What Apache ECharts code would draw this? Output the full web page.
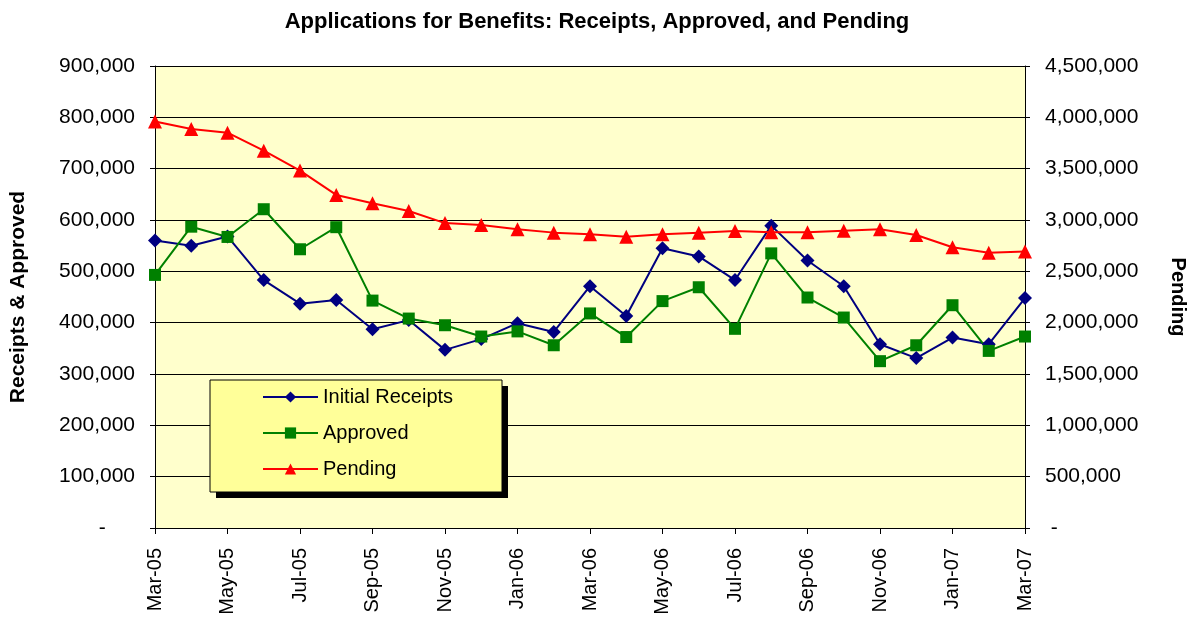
<!DOCTYPE html>
<html>
<head>
<meta charset="utf-8">
<script src="https://cdn.jsdelivr.net/npm/echarts@6/dist/echarts.min.js"></script>
<style>
  html, body { margin: 0; padding: 0; background: #fff; }
  #main { width: 1194px; height: 620px; }
</style>
</head>
<body>
<div id="main"></div>
<script>
const months = [
  "Mar-05", "Apr-05", "May-05", "Jun-05", "Jul-05", "Aug-05", "Sep-05", "Oct-05", "Nov-05",
  "Dec-05", "Jan-06", "Feb-06", "Mar-06", "Apr-06", "May-06", "Jun-06", "Jul-06", "Aug-06",
  "Sep-06", "Oct-06", "Nov-06", "Dec-06", "Jan-07", "Feb-07", "Mar-07"
];
const receipts = [
  560000, 550000, 568000, 483000, 437000, 444000, 387000, 405000, 347000,
  368000, 399000, 382000, 471000, 413000, 545000, 529000, 483000, 589000,
  521000, 471000, 358000, 331000, 371000, 358000, 448000
];
const approved = [
  493000, 587000, 567000, 621000, 543000, 586000, 443000, 408000, 395000,
  373000, 383000, 356000, 418000, 372000, 442000, 469000, 388000, 535000,
  449000, 410000, 325000, 356000, 434000, 345000, 373000
];
const pending = [
  3960000, 3887000, 3851000, 3675000, 3481000, 3244000, 3163000, 3088000, 2970000,
  2952000, 2909000, 2877000, 2861000, 2838000, 2861000, 2877000, 2893000, 2880000,
  2880000, 2896000, 2909000, 2854000, 2734000, 2682000, 2692000
];

// accounting style: zero shows as a dash
function fmtLeft(v) {
  return v === 0 ? "-     " : v.toLocaleString("en-US");
}
function fmtRight(v) {
  return v === 0 ? " -" : v.toLocaleString("en-US");
}

const chart = echarts.init(document.getElementById("main"));
const font = "Liberation Sans, Arial, sans-serif";

chart.setOption({
  animation: false,
  textStyle: { fontFamily: font },
  title: {
    text: "Applications for Benefits: Receipts, Approved, and Pending",
    left: "center",
    top: 6,
    textStyle: { fontSize: 22, fontWeight: "bold", color: "#000", fontFamily: font }
  },
  grid: {
    left: 155, right: 169, top: 66, bottom: 92,
    outerBoundsMode: "none",
    show: true, backgroundColor: "#FFFFCC", borderWidth: 0
  },
  // legend box with hard black drop shadow
  graphic: [
    {
      type: "rect",
      z: 3,
      shape: { x: 216, y: 386, width: 292, height: 112 },
      style: { fill: "#000" }
    },
    {
      type: "rect",
      z: 3,
      shape: { x: 210, y: 380, width: 292, height: 112 },
      style: { fill: "#FFFF99", stroke: "#000", lineWidth: 1 }
    }
  ],
  legend: {
    orient: "vertical",
    left: 262,
    top: 387,
    z: 5,
    padding: 0,
    itemWidth: 55,
    itemHeight: 14,
    itemGap: 16,
    textStyle: { fontSize: 20, lineHeight: 20, color: "#000", fontFamily: font },
    data: ["Initial Receipts", "Approved", "Pending"]
  },
  xAxis: {
    type: "category",
    data: months,
    boundaryGap: false,
    axisLine: { lineStyle: { color: "#000", width: 1 } },
    axisTick: { interval: 1, length: 6, lineStyle: { color: "#000" } },
    axisLabel: { interval: 1, rotate: 90, color: "#000", fontSize: 20, margin: 20 }
  },
  yAxis: [
    {
      type: "value",
      min: 0, max: 900000, interval: 100000,
      name: "Receipts & Approved",
      nameLocation: "middle",
      nameRotate: 90,
      nameGap: 126,
      nameTextStyle: { fontSize: 21, fontWeight: "bold", color: "#000" },
      axisLine: { show: true, lineStyle: { color: "#000" } },
      axisTick: { show: true, length: 5, lineStyle: { color: "#000" } },
      axisLabel: { formatter: fmtLeft, color: "#000", fontSize: 21, margin: 20 },
      splitLine: { show: true, lineStyle: { color: "#000", width: 1 } }
    },
    {
      type: "value",
      min: 0, max: 4500000, interval: 500000,
      position: "right",
      name: "Pending",
      nameLocation: "middle",
      nameRotate: -90,
      nameGap: 143,
      nameTextStyle: { fontSize: 20, fontWeight: "bold", color: "#000" },
      axisLine: { show: true, lineStyle: { color: "#000" } },
      axisTick: { show: true, length: 5, lineStyle: { color: "#000" } },
      axisLabel: { formatter: fmtRight, color: "#000", fontSize: 21, margin: 20 },
      splitLine: { show: false }
    }
  ],
  series: [
    {
      name: "Initial Receipts",
      type: "line",
      data: receipts,
      color: "#000080",
      symbol: "diamond",
      symbolSize: 14,
      lineStyle: { width: 2 }
    },
    {
      name: "Approved",
      type: "line",
      data: approved,
      color: "#008000",
      symbol: "rect",
      symbolSize: 12,
      lineStyle: { width: 2 }
    },
    {
      name: "Pending",
      type: "line",
      yAxisIndex: 1,
      data: pending,
      color: "#FF0000",
      symbol: "triangle",
      symbolSize: 14,
      lineStyle: { width: 2 }
    }
  ]
});
</script>
</body>
</html>
